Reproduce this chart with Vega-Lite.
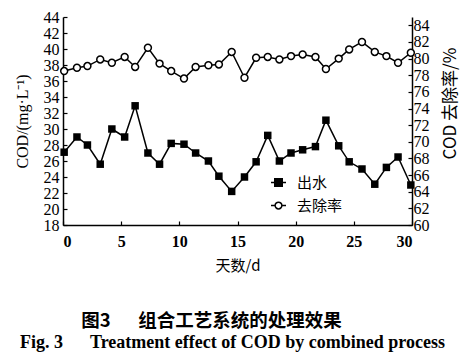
{
  "$schema": "https://vega.github.io/schema/vega-lite/v6.json",
  "autosize": "none",
  "width": 349,
  "height": 208,
  "padding": {"left": 63, "top": 17, "right": 59, "bottom": 134},
  "background": "white",
  "config": {
    "view": {"stroke": null},
    "font": "Liberation Serif",
    "axis": {
      "labelFont": "Liberation Serif",
      "labelFontSize": 15,
      "labelColor": "black",
      "labelOverlap": false,
      "domainColor": "black",
      "domainWidth": 1.5,
      "tickColor": "black",
      "tickWidth": 1.2,
      "tickSize": -4,
      "grid": false,
      "titleColor": "black",
      "titleFontWeight": "normal"
    },
    "style": {"guide-label": {"font": "Liberation Serif"}, "guide-title": {"font": "Liberation Serif"}}
  },
  "datasets": {
    "main": [
      {"day": 0.1, "cod": 27.1, "rate": 78.5},
      {"day": 1.2, "cod": 29.0, "rate": 78.9},
      {"day": 2.1, "cod": 28.0, "rate": 79.1},
      {"day": 3.2, "cod": 25.6, "rate": 79.9},
      {"day": 4.2, "cod": 30.0, "rate": 79.5},
      {"day": 5.3, "cod": 29.0, "rate": 80.2},
      {"day": 6.2, "cod": 32.9, "rate": 79.0},
      {"day": 7.3, "cod": 27.0, "rate": 81.3},
      {"day": 8.3, "cod": 25.6, "rate": 79.4},
      {"day": 9.3, "cod": 28.2, "rate": 78.5},
      {"day": 10.4, "cod": 28.1, "rate": 77.6},
      {"day": 11.4, "cod": 27.0, "rate": 79.0},
      {"day": 12.5, "cod": 26.0, "rate": 79.2},
      {"day": 13.4, "cod": 24.1, "rate": 79.3},
      {"day": 14.5, "cod": 22.2, "rate": 80.8},
      {"day": 15.6, "cod": 24.0, "rate": 77.7},
      {"day": 16.6, "cod": 25.9, "rate": 80.1},
      {"day": 17.6, "cod": 29.2, "rate": 80.2},
      {"day": 18.6, "cod": 26.0, "rate": 79.9},
      {"day": 19.6, "cod": 27.0, "rate": 80.3},
      {"day": 20.6, "cod": 27.4, "rate": 80.5},
      {"day": 21.7, "cod": 27.8, "rate": 80.2},
      {"day": 22.6, "cod": 31.1, "rate": 78.75},
      {"day": 23.7, "cod": 27.9, "rate": 80.0},
      {"day": 24.6, "cod": 25.9, "rate": 81.1},
      {"day": 25.7, "cod": 25.0, "rate": 82.0},
      {"day": 26.8, "cod": 23.1, "rate": 80.8},
      {"day": 27.8, "cod": 25.2, "rate": 80.3},
      {"day": 28.8, "cod": 26.5, "rate": 79.5},
      {"day": 29.9, "cod": 23.0, "rate": 80.7}
    ],
    "keys": [{"series": "出水"}, {"series": "去除率"}]
  },
  "title": {
    "text": "图3\u2003\u2002组合工艺系统的处理效果\u2800\u2800\u2800",
    "subtitle": "Fig. 3\u2003\u2002Treatment effect of COD by combined process",
    "orient": "bottom",
    "anchor": "middle",
    "frame": "group",
    "dx": -5,
    "font": "Noto Sans CJK SC",
    "fontSize": 18.5,
    "fontWeight": "bold",
    "color": "black",
    "subtitleFont": "Liberation Serif",
    "subtitleFontSize": 18,
    "subtitleFontWeight": "bold",
    "subtitleColor": "black",
    "subtitlePadding": 3,
    "offset": 39
  },
  "layer": [
    {
      "data": {"name": "main"},
      "encoding": {
        "x": {
          "field": "day", "type": "quantitative",
          "scale": {"domain": [0, 30], "nice": false, "zero": false},
          "axis": {"values": [0, 5, 10, 15, 20, 25, 30], "title": "天数/d", "titleFont": "Noto Sans CJK SC", "titleFontSize": 15, "labelFont": "Liberation Serif", "labelFontSize": 16, "labelPadding": 12, "titlePadding": 9, "labelFontWeight": "bold"}
        },
        "y": {
          "field": "cod", "type": "quantitative",
          "scale": {"domain": [18, 44], "nice": false, "zero": false},
          "axis": {"orient": "left", "values": [18, 20, 22, 24, 26, 28, 30, 32, 34, 36, 38, 40, 42, 44], "title": "COD/(mg·L⁻¹)", "titleFont": "Liberation Serif", "labelFont": "Liberation Serif", "labelFontSize": 16, "labelOverlap": false, "titleFontSize": 16, "labelPadding": 8, "titlePadding": 13}
        }
      },
      "layer": [
        {"mark": {"type": "line", "color": "black", "strokeWidth": 1.5}},
        {"mark": {"type": "point", "shape": "square", "filled": true, "color": "black", "size": 56, "opacity": 1}}
      ]
    },
    {
      "data": {"name": "main"},
      "encoding": {
        "x": {
          "field": "day", "type": "quantitative",
          "scale": {"domain": [0, 30], "nice": false, "zero": false},
          "axis": {"values": [0, 5, 10, 15, 20, 25, 30], "title": "天数/d", "titleFont": "Noto Sans CJK SC", "titleFontSize": 15, "labelFont": "Liberation Serif", "labelFontSize": 16, "labelPadding": 12, "titlePadding": 9, "labelFontWeight": "bold"}
        },
        "y": {
          "field": "rate", "type": "quantitative",
          "scale": {"domain": [60, 85], "nice": false, "zero": false},
          "axis": {"orient": "right", "values": [60, 62, 64, 66, 68, 70, 72, 74, 76, 78, 80, 82, 84], "title": "COD 去除率/%", "titleFont": "Noto Sans CJK SC", "labelFont": "Liberation Serif", "labelFontSize": 16, "labelOverlap": false, "titleFontSize": 17, "titleAngle": 270, "titleY": 86, "labelPadding": 5, "titlePadding": 30}
        }
      },
      "layer": [
        {"mark": {"type": "line", "color": "black", "strokeWidth": 1.5}},
        {"mark": {"type": "point", "shape": "circle", "fill": "white", "stroke": "black", "strokeWidth": 1.5, "size": 48, "opacity": 1}}
      ]
    },
    {
      "data": {"name": "keys"},
      "mark": {"type": "point", "size": 0, "strokeWidth": 1.5, "opacity": 1},
      "encoding": {
        "shape": {
          "field": "series", "type": "nominal",
          "scale": {"domain": ["出水", "去除率"], "range": ["M-1,0H1M-0.5,-0.5H0.5V0.5H-0.5Z", "M-1,0H-0.45M0.45,0H1M-0.45,0A0.45,0.45,0,1,1,0.45,0A0.45,0.45,0,1,1,-0.45,0Z"]},
          "legend": {"title": null, "orient": "none", "legendX": 207, "legendY": 157, "padding": 0, "symbolSize": 225, "symbolStrokeWidth": 1.5, "labelFont": "Noto Sans CJK SC", "labelFontSize": 15, "labelColor": "black", "labelOffset": 10, "rowPadding": 6}
        },
        "fill": {
          "field": "series", "type": "nominal",
          "scale": {"domain": ["出水", "去除率"], "range": ["black", "white"]},
          "legend": {"title": null, "orient": "none", "legendX": 207, "legendY": 157, "padding": 0, "symbolSize": 225, "symbolStrokeWidth": 1.5, "labelFont": "Noto Sans CJK SC", "labelFontSize": 15, "labelColor": "black", "labelOffset": 10, "rowPadding": 6}
        },
        "stroke": {
          "field": "series", "type": "nominal",
          "scale": {"domain": ["出水", "去除率"], "range": ["black", "black"]},
          "legend": {"title": null, "orient": "none", "legendX": 207, "legendY": 157, "padding": 0, "symbolSize": 225, "symbolStrokeWidth": 1.5, "labelFont": "Noto Sans CJK SC", "labelFontSize": 15, "labelColor": "black", "labelOffset": 10, "rowPadding": 6}
        }
      }
    }
  ],
  "resolve": {"scale": {"y": "independent"}}
}
